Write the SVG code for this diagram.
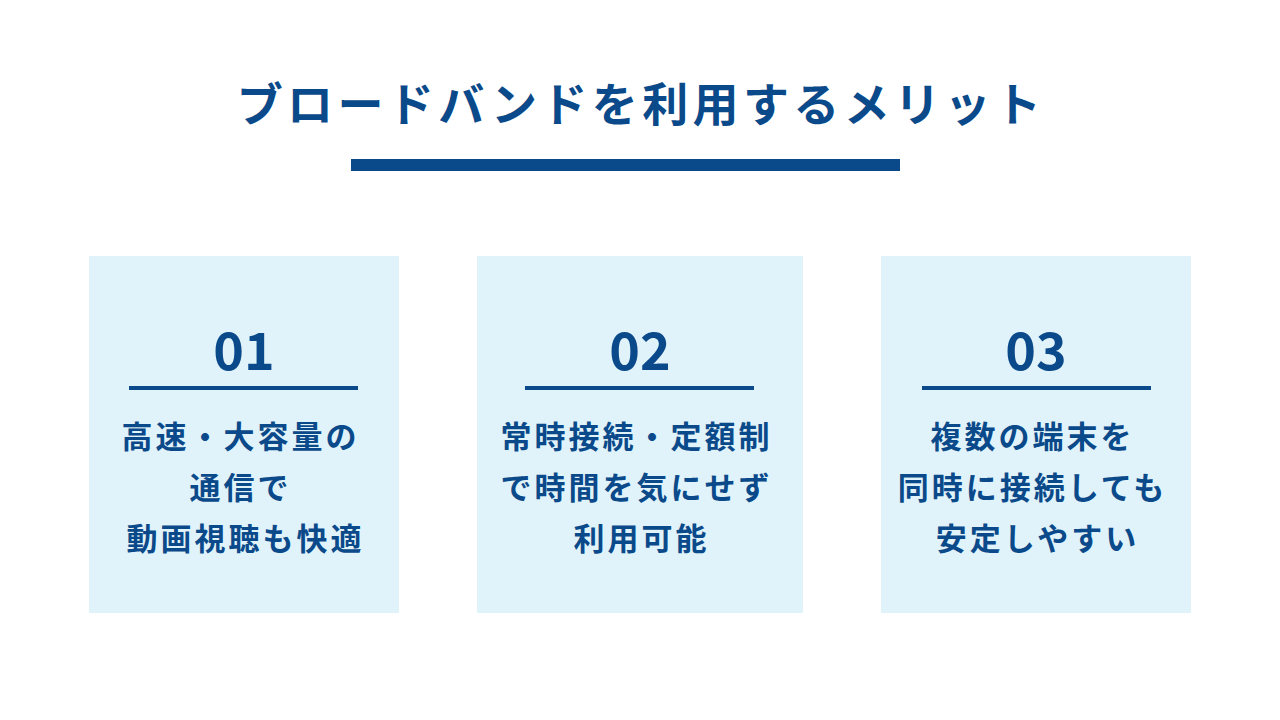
<svg xmlns="http://www.w3.org/2000/svg" width="1280" height="720" viewBox="0 0 1280 720">
  <style>
    .title { font-family: "Noto Sans CJK JP", "Noto Sans", sans-serif; font-weight: 700; font-size: 46px; letter-spacing: 4.4px; fill: #0B4A8A; }
    .num { font-family: "Noto Sans CJK JP", "Noto Sans", sans-serif; font-weight: 700; font-size: 52px; fill: #0B4A8A; }
    .body { font-family: "Noto Sans CJK JP", "Noto Sans", sans-serif; font-weight: 700; font-size: 31px; letter-spacing: 3px; fill: #0B4A8A; }
    .card { fill: #E0F3FA; }
    .rule { fill: #0B4A8A; }
  </style>
  <rect width="1280" height="720" fill="#FFFFFF"/>
  <g id="header">
    <text class="title" x="641" y="121" text-anchor="middle">ブロードバンドを利用するメリット</text>
    <rect class="rule" x="351" y="159" width="549" height="12"/>
  </g>
  <g id="card1">
    <rect class="card" x="89" y="256" width="310" height="357"/>
    <text class="num" x="244" y="370" text-anchor="middle">01</text>
    <rect class="rule" x="129" y="386" width="229" height="4"/>
    <text class="body" text-anchor="middle">
      <tspan x="245.5" y="448">高速・大容量の</tspan>
      <tspan x="245.5" y="499">通信で</tspan>
      <tspan x="245.5" y="550">動画視聴も快適</tspan>
    </text>
  </g>
  <g id="card2">
    <rect class="card" x="477" y="256" width="326" height="357"/>
    <text class="num" x="640" y="370" text-anchor="middle">02</text>
    <rect class="rule" x="525" y="386" width="229" height="4"/>
    <text class="body" text-anchor="middle">
      <tspan x="641.5" y="448">常時接続・定額制</tspan>
      <tspan x="641.5" y="499">で時間を気にせず</tspan>
      <tspan x="641.5" y="550">利用可能</tspan>
    </text>
  </g>
  <g id="card3">
    <rect class="card" x="881" y="256" width="310" height="357"/>
    <text class="num" x="1036" y="370" text-anchor="middle">03</text>
    <rect class="rule" x="922" y="386" width="229" height="4"/>
    <text class="body" text-anchor="middle">
      <tspan x="1037.5" y="448">複数の端末を</tspan>
      <tspan x="1037.5" y="499">同時に接続しても</tspan>
      <tspan x="1037.5" y="550">安定しやすい</tspan>
    </text>
  </g>
  <g id="connectors"></g>
</svg>
